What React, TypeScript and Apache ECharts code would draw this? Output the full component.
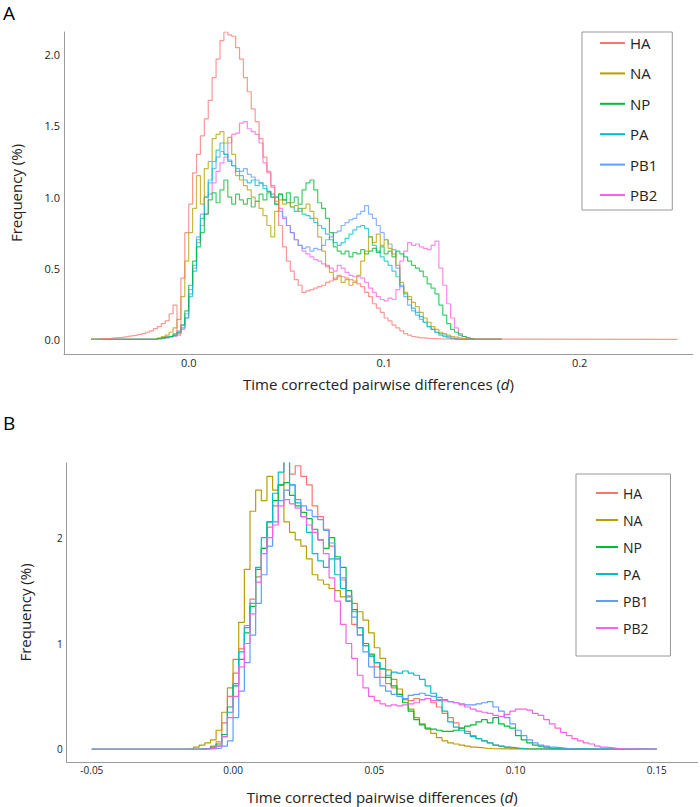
import React, { useEffect, useRef } from "react";
import * as echarts from "echarts";

// ---------- shared ----------
const SEGMENTS = ["HA", "NA", "NP", "PA", "PB1", "PB2"];
const COLORS = ["#F8766D", "#B79F00", "#00BA38", "#00BFC4", "#619CFF", "#F564E3"];
const BIN_WIDTH = 0.002;

// ---------- panel A (bin left edges start at the given value) ----------
const A_STARTS = [-0.046, -0.016, -0.016, -0.016, -0.016, -0.016];
const A_ENDS = [0.25, 0.16, 0.16, 0.16, 0.16, 0.16];
const A_BEGIN = -0.05;
const HA_A = [0.003, 0.005, 0.007, 0.01, 0.012, 0.014, 0.018, 0.022, 0.026, 0.03, 0.035, 0.04, 0.05, 0.06, 0.075, 0.09, 0.11, 0.13, 0.18, 0.24, 0.03, 0.43, 0.75, 0.95, 1.17, 1.3, 1.43, 1.55, 1.68, 1.84, 1.97, 2.1, 2.16, 2.14, 2.13, 2.05, 1.97, 1.84, 1.74, 1.62, 1.53, 1.41, 1.28, 1.17, 1.07, 0.97, 0.8, 0.65, 0.55, 0.48, 0.42, 0.38, 0.33, 0.34, 0.35, 0.36, 0.37, 0.38, 0.4, 0.41, 0.43, 0.45, 0.44, 0.43, 0.42, 0.41, 0.39, 0.37, 0.33, 0.3, 0.25, 0.22, 0.19, 0.15, 0.13, 0.1, 0.08, 0.06, 0.04, 0.03, 0.02, 0.015, 0.01, 0.008, 0.006, 0.005, 0.004, 0.003];
const NA_A = [0.01, 0.02, 0.03, 0.05, 0.08, 0.14, 0.3, 0.55, 0.75, 0.92, 1.15, 0.95, 1.2, 1.25, 1.41, 1.44, 1.46, 1.38, 1.42, 1.3, 1.15, 1.12, 1.08, 1.05, 1.0, 0.97, 0.92, 0.87, 0.8, 0.72, 0.9, 0.98, 0.95, 0.96, 0.93, 0.94, 0.9, 0.92, 0.95, 0.9, 0.85, 0.72, 0.62, 0.52, 0.47, 0.42, 0.44, 0.4, 0.42, 0.38, 0.4, 0.45, 0.55, 0.62, 0.72, 0.68, 0.74, 0.66, 0.7, 0.64, 0.6, 0.52, 0.4, 0.33, 0.3, 0.26, 0.23, 0.19, 0.15, 0.12, 0.09, 0.07, 0.05, 0.04, 0.03, 0.02, 0.015, 0.01, 0.005];
const NP_A = [0.005, 0.01, 0.015, 0.02, 0.03, 0.05, 0.1, 0.2, 0.38, 0.55, 0.65, 0.75, 0.88, 0.98, 1.03, 0.96, 1.05, 1.12, 1.0, 0.95, 1.02, 0.98, 0.95, 0.99, 0.93, 0.97, 1.02, 0.98, 1.03, 1.0, 0.95, 1.02, 0.98, 1.03, 0.96, 1.0, 0.95, 1.05, 1.1, 1.12, 1.05, 0.96, 0.92, 0.85, 0.75, 0.65, 0.62, 0.6, 0.62, 0.58, 0.61, 0.6, 0.63, 0.6, 0.62, 0.64, 0.61, 0.65, 0.6, 0.62, 0.58, 0.62, 0.6, 0.58, 0.55, 0.52, 0.5, 0.48, 0.44, 0.39, 0.36, 0.32, 0.24, 0.17, 0.11, 0.07, 0.05, 0.03, 0.02, 0.01, 0.005];
const PA_A = [0.005, 0.01, 0.015, 0.02, 0.03, 0.05, 0.08, 0.15, 0.3, 0.48, 0.7, 0.85, 1.0, 1.12, 1.25, 1.33, 1.38, 1.3, 1.25, 1.22, 1.18, 1.15, 1.12, 1.1, 1.12, 1.08, 1.1, 1.06, 1.04, 1.02, 1.0, 1.02, 0.98, 0.96, 0.93, 0.9, 0.92, 0.88, 0.87, 0.85, 0.82, 0.8, 0.78, 0.74, 0.7, 0.68, 0.66, 0.68, 0.71, 0.74, 0.77, 0.79, 0.8, 0.78, 0.72, 0.66, 0.62, 0.58, 0.55, 0.52, 0.48, 0.44, 0.38, 0.32, 0.28, 0.22, 0.19, 0.16, 0.12, 0.09, 0.07, 0.05, 0.03, 0.02, 0.01, 0.005];
const PB1_A = [0.005, 0.01, 0.015, 0.02, 0.04, 0.06, 0.1, 0.18, 0.32, 0.52, 0.72, 0.88, 1.0, 1.1, 1.2, 1.28, 1.32, 1.3, 1.26, 1.22, 1.2, 1.18, 1.2, 1.16, 1.14, 1.12, 1.1, 1.08, 1.04, 1.0, 0.95, 0.9, 0.86, 0.8, 0.75, 0.7, 0.66, 0.64, 0.65, 0.62, 0.64, 0.63, 0.66, 0.7, 0.72, 0.75, 0.76, 0.8, 0.82, 0.84, 0.85, 0.88, 0.9, 0.94, 0.88, 0.85, 0.8, 0.75, 0.7, 0.67, 0.63, 0.5, 0.37, 0.3, 0.24, 0.2, 0.17, 0.14, 0.12, 0.09, 0.07, 0.05, 0.04, 0.03, 0.02, 0.01, 0.005];
const PB2_A = [0.005, 0.008, 0.01, 0.015, 0.02, 0.04, 0.07, 0.15, 0.35, 0.5, 0.68, 0.8, 0.88, 1.02, 1.1, 1.18, 1.24, 1.28, 1.38, 1.44, 1.45, 1.52, 1.53, 1.48, 1.46, 1.44, 1.38, 1.24, 1.18, 1.08, 1.0, 0.92, 0.85, 0.8, 0.75, 0.7, 0.66, 0.62, 0.6, 0.58, 0.56, 0.55, 0.53, 0.51, 0.5, 0.48, 0.52, 0.5, 0.47, 0.45, 0.44, 0.44, 0.43, 0.4, 0.36, 0.33, 0.3, 0.28, 0.27, 0.29, 0.28, 0.35, 0.55, 0.62, 0.68, 0.66, 0.67, 0.65, 0.64, 0.63, 0.66, 0.69, 0.5, 0.38, 0.25, 0.15, 0.08, 0.04, 0.02, 0.01, 0.005];
const A_X_TICKS = [0, 0.1, 0.2];
const A_Y_TICKS = [0, 0.5, 1.0, 1.5, 2.0];

// ---------- panel B ----------
const B_STARTS = [-0.016, -0.016, -0.016, -0.016, -0.016, -0.016];
const B_ENDS = [0.15, 0.15, 0.15, 0.15, 0.15, 0.15];
const B_BEGIN = -0.05;
const HA_B = [0, 0.002, 0.005, 0.01, 0.03, 0.07, 0.25, 0.5, 0.72, 0.95, 1.17, 1.42, 1.63, 1.9, 2.1, 2.3, 2.5, 2.72, 2.6, 2.68, 2.58, 2.5, 2.3, 2.2, 2.08, 1.92, 1.8, 1.6, 1.4, 1.18, 1.08, 0.98, 0.88, 0.78, 0.68, 0.62, 0.58, 0.52, 0.48, 0.46, 0.48, 0.47, 0.48, 0.44, 0.4, 0.34, 0.3, 0.25, 0.2, 0.17, 0.13, 0.1, 0.08, 0.06, 0.04, 0.03, 0.02, 0.01, 0.005];
const NA_B = [0.005, 0.02, 0.04, 0.06, 0.09, 0.18, 0.35, 0.58, 0.85, 1.2, 1.7, 2.25, 2.45, 2.35, 2.58, 2.45, 2.5, 2.15, 2.05, 1.98, 1.92, 1.8, 1.65, 1.6, 1.56, 1.52, 1.5, 1.44, 1.44, 1.38, 1.3, 1.22, 1.1, 0.96, 0.86, 0.75, 0.66, 0.57, 0.47, 0.38, 0.3, 0.24, 0.19, 0.15, 0.11, 0.08, 0.06, 0.05, 0.04, 0.03, 0.02, 0.015, 0.01, 0.005];
const NP_B = [0, 0, 0.005, 0.01, 0.02, 0.05, 0.14, 0.4, 0.6, 0.85, 1.1, 1.35, 1.7, 1.9, 2.15, 2.35, 2.5, 2.52, 2.4, 2.3, 2.24, 2.18, 2.08, 1.98, 1.9, 2.0, 1.82, 1.72, 1.5, 1.32, 1.15, 1.0, 0.9, 0.82, 0.76, 0.68, 0.6, 0.52, 0.44, 0.36, 0.28, 0.23, 0.2, 0.19, 0.18, 0.17, 0.17, 0.18, 0.2, 0.22, 0.23, 0.26, 0.28, 0.25, 0.3, 0.24, 0.22, 0.2, 0.13, 0.09, 0.06, 0.04, 0.03, 0.02, 0.01, 0.005];
const PA_B = [0, 0, 0.003, 0.006, 0.01, 0.03, 0.12, 0.35, 0.62, 0.92, 1.15, 1.38, 1.72, 2.0, 2.15, 2.42, 2.62, 2.72, 2.5, 2.33, 2.2, 2.05, 1.85, 1.78, 1.72, 1.8, 1.65, 1.52, 1.4, 1.3, 1.15, 0.98, 0.88, 0.82, 0.76, 0.7, 0.73, 0.72, 0.74, 0.72, 0.7, 0.66, 0.6, 0.53, 0.46, 0.36, 0.26, 0.21, 0.18, 0.15, 0.12, 0.1, 0.08, 0.06, 0.04, 0.03, 0.02, 0.015, 0.01, 0.005];
const PB1_B = [0, 0, 0.002, 0.004, 0.006, 0.01, 0.03, 0.08, 0.3, 0.55, 0.82, 1.08, 1.38, 1.65, 1.92, 2.15, 2.35, 2.45, 2.5, 2.36, 2.3, 2.26, 2.2, 2.17, 2.07, 1.95, 1.8, 1.62, 1.45, 1.25, 1.08, 0.92, 0.78, 0.68, 0.6, 0.55, 0.52, 0.5, 0.48, 0.51, 0.52, 0.53, 0.51, 0.5, 0.49, 0.47, 0.45, 0.44, 0.43, 0.42, 0.42, 0.43, 0.44, 0.45, 0.4, 0.36, 0.3, 0.24, 0.18, 0.13, 0.09, 0.06, 0.04, 0.03, 0.02, 0.015, 0.01, 0.005];
const PB2_B = [0, 0, 0.002, 0.005, 0.01, 0.03, 0.12, 0.3, 0.5, 0.78, 1.0, 1.28, 1.58, 1.85, 2.0, 2.12, 2.3, 2.36, 2.32, 2.28, 2.2, 2.12, 2.05, 1.98, 1.85, 1.62, 1.4, 1.18, 1.0, 0.86, 0.7, 0.58, 0.5, 0.46, 0.43, 0.41, 0.42, 0.41, 0.42, 0.43, 0.44, 0.47, 0.48, 0.46, 0.47, 0.46, 0.45, 0.44, 0.42, 0.4, 0.38, 0.36, 0.35, 0.34, 0.32, 0.31, 0.33, 0.36, 0.38, 0.38, 0.37, 0.34, 0.32, 0.28, 0.24, 0.2, 0.16, 0.13, 0.1, 0.08, 0.06, 0.05, 0.03, 0.02, 0.015, 0.01, 0.005];
const B_X_TICKS = [-0.05, 0, 0.05, 0.1, 0.15];
const B_Y_TICKS = [0, 1, 2];

const A_VALUES = [HA_A, NA_A, NP_A, PA_A, PB1_A, PB2_A];
const B_VALUES = [HA_B, NA_B, NP_B, PA_B, PB1_B, PB2_B];

const FONT = "'Open Sans', 'Noto Sans', sans-serif";
const TEXT = "#222";
const AXIS = "#9a9a9a";

function stepData(values: number[], start: number, begin: number, end: number) {
  const pts: number[][] = [[begin, 0]];
  values.forEach((v, i) => pts.push([+(start + i * BIN_WIDTH).toFixed(4), v]));
  pts.push([+(start + values.length * BIN_WIDTH).toFixed(4), 0]);
  pts.push([end, 0]);
  return pts;
}

function makeSeries(
  all: number[][],
  starts: number[],
  begin: number,
  ends: number[],
  idx: number,
  opacity: number,
  reverse: boolean
) {
  const list = all.map((vals, i) => ({
    name: SEGMENTS[i],
    type: "line",
    xAxisIndex: idx,
    yAxisIndex: idx,
    step: "end",
    symbol: "none",
    showSymbol: false,
    z: reverse ? 2 + (all.length - i) : 2 + i,
    data: stepData(vals, starts[i], begin, ends[i]),
    lineStyle: { width: 1.2, color: COLORS[i], opacity },
    itemStyle: { color: COLORS[i] },
    emphasis: { disabled: true },
  }));
  return reverse ? list.slice().reverse() : list;
}

export default function App() {
  const ref = useRef<HTMLDivElement>(null);
  useEffect(() => {
    document.body.style.margin = "0";
    if (!ref.current) return;
    const chart = echarts.init(ref.current, undefined, { renderer: "svg" });
    const axisName = (gap: number) => ({
      name: "Time corrected pairwise differences ({i|d})",
      nameLocation: "middle",
      nameGap: gap,
      nameTextStyle: {
        fontSize: 15,
        fontFamily: FONT,
        color: TEXT,
        rich: { i: { fontStyle: "italic", fontSize: 15, fontFamily: FONT, color: TEXT } },
      },
    });
    const option: any = {
      animation: false,
      backgroundColor: "#fff",
      color: COLORS,
      textStyle: { fontFamily: FONT },
      grid: [
        { left: 56.7, top: 32, width: 636.3, height: 322 },
        { left: 66.7, top: 463, width: 631, height: 299 },
      ],
      xAxis: [
        {
          type: "value",
          gridIndex: 0,
          min: -0.0638,
          max: 0.258,
          ...axisName(22),
          axisLine: { show: true, onZero: false, lineStyle: { color: AXIS, width: 1 } },
          axisTick: { show: false },
          splitLine: { show: false },
          axisLabel: {
            customValues: A_X_TICKS,
            formatter: (v: number) => v.toFixed(1),
            fontSize: 11,
            color: TEXT,
            fontFamily: FONT,
            margin: 3,
          },
        },
        {
          type: "value",
          gridIndex: 1,
          min: -0.0589,
          max: 0.1645,
          ...axisName(27),
          axisLine: { show: true, onZero: false, lineStyle: { color: AXIS, width: 1 } },
          axisTick: { show: false },
          splitLine: { show: false },
          axisLabel: {
            customValues: B_X_TICKS,
            formatter: (v: number) => v.toFixed(2),
            fontSize: 10,
            color: TEXT,
            fontFamily: FONT,
            margin: 3,
          },
        },
      ],
      yAxis: [
        {
          type: "value",
          gridIndex: 0,
          min: -0.103,
          max: 2.16,
          name: "Frequency (%)",
          nameLocation: "middle",
          nameRotate: 90,
          nameGap: 41,
          nameTextStyle: { fontSize: 15, fontFamily: FONT, color: TEXT },
          axisLine: { show: true, onZero: false, lineStyle: { color: AXIS, width: 1 } },
          axisTick: { show: false },
          splitLine: { show: false },
          axisLabel: {
            customValues: A_Y_TICKS,
            formatter: (v: number) => v.toFixed(1),
            fontSize: 11,
            color: TEXT,
            fontFamily: FONT,
            margin: 4,
          },
        },
        {
          type: "value",
          gridIndex: 1,
          min: -0.12,
          max: 2.706,
          name: "Frequency (%)",
          nameLocation: "middle",
          nameRotate: 90,
          nameGap: 34,
          nameTextStyle: { fontSize: 15, fontFamily: FONT, color: TEXT },
          axisLine: { show: true, onZero: false, lineStyle: { color: AXIS, width: 1 } },
          axisTick: { show: false },
          splitLine: { show: false },
          axisLabel: {
            customValues: B_Y_TICKS,
            formatter: (v: number) => String(v),
            fontSize: 10,
            color: TEXT,
            fontFamily: FONT,
            margin: 4,
          },
        },
      ],
      legend: [
        {
          data: SEGMENTS,
          orient: "vertical",
          left: 582,
          top: 32,
          padding: [3, 15, 7, 18],
          itemGap: 14.4,
          itemWidth: 25,
          itemHeight: 2,
          itemTextGap: 5,
          icon: "rect",
          borderColor: "#999",
          borderWidth: 1,
          selectedMode: false,
          textStyle: { fontSize: 15, lineHeight: 16, color: TEXT, fontFamily: FONT },
        },
        {
          data: SEGMENTS,
          orient: "vertical",
          left: 576,
          top: 474,
          padding: [11, 22, 20, 20],
          itemGap: 11,
          itemWidth: 22,
          itemHeight: 2,
          itemTextGap: 4,
          icon: "rect",
          borderColor: "#999",
          borderWidth: 1,
          selectedMode: false,
          textStyle: { fontSize: 14, lineHeight: 16, color: TEXT, fontFamily: FONT },
        },
      ],
      graphic: [
        { type: "text", left: 3, top: 3, style: { text: "A", fontSize: 19, fontFamily: FONT, fill: "#000" } },
        { type: "text", left: 3, top: 413, style: { text: "B", fontSize: 19, fontFamily: FONT, fill: "#000" } },
      ],
      series: [
        ...makeSeries(A_VALUES, A_STARTS, A_BEGIN, A_ENDS, 0, 0.75, true),
        ...makeSeries(B_VALUES, B_STARTS, B_BEGIN, B_ENDS, 1, 1, false),
      ],
    };
    chart.setOption(option);
    return () => chart.dispose();
  }, []);
  return <div ref={ref} style={{ width: 700, height: 807 }} />;
}
